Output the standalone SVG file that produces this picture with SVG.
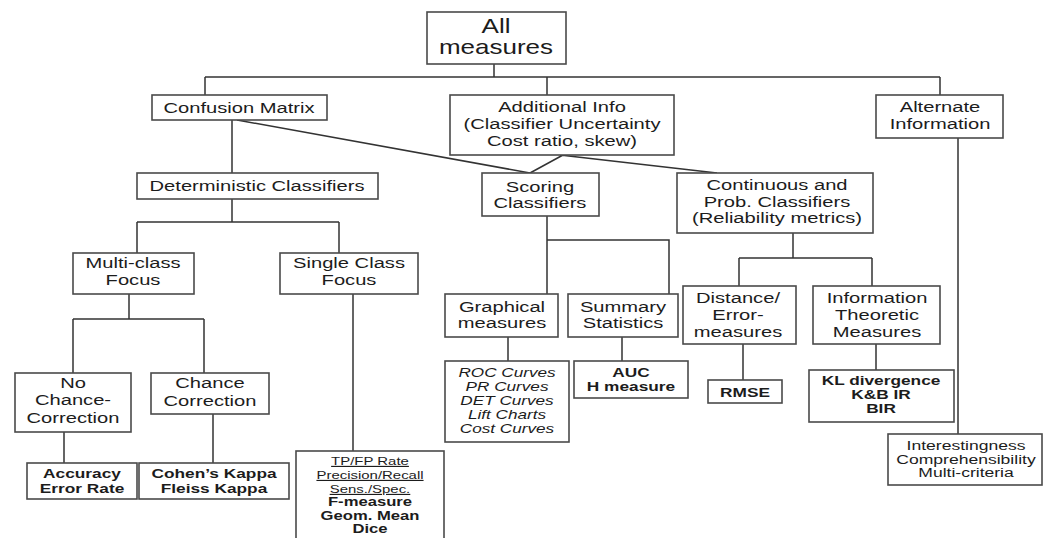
<svg xmlns="http://www.w3.org/2000/svg" width="1044" height="538" viewBox="0 0 1044 538">
<style>
.b{fill:#fff;stroke:#4a4a4a;stroke-width:1.6}
.c{fill:none;stroke:#333;stroke-width:1.5}
text{font-family:"Liberation Sans",Arial,sans-serif;fill:#1c1c1c;text-anchor:middle}
.m{font-size:15.5px}
.t{font-size:20px}
.s{font-size:13.3px;font-weight:bold}
.i{font-size:13.2px;font-style:italic}
.r{font-size:13.5px}
.u{font-size:11.5px;text-decoration:underline}
.sb{font-size:12.8px;font-weight:bold}
</style>
<rect width="1044" height="538" fill="#fff"/>
<g id="connectors">
<path class="c" d="M494 64V77M205 77H940M205 77V95M547 77V95M940 77V95"/>
<path class="c" d="M232 120V173M237 120L530 173M563 155L530 173M560 155L717 173"/>
<path class="c" d="M232 199V222M137 222H339M137 222V253M339 222V253"/>
<path class="c" d="M129 294V319M73 319H204M73 319V373M204 319V373M64 432V463M213 414V463M353 294V451"/>
<path class="c" d="M547 216V294M547 240H669V294M508 337V361M622 337V361"/>
<path class="c" d="M793 233V258M739 258H872M739 258V286M872 258V286M743 344V380M876 344V370M958 138V434"/>
</g>
<g id="all"><rect class="b" x="427" y="12" width="139" height="52"/>
<text class="t" transform="translate(496 0) scale(1.3 1)" y="33">All</text>
<text class="t" transform="translate(496 0) scale(1.3 1)" y="54">measures</text></g>
<g id="confusion"><rect class="b" x="152" y="95" width="175" height="25"/>
<text class="m" transform="translate(239 0) scale(1.3 1)" y="113">Confusion Matrix</text></g>
<g id="addinfo"><rect class="b" x="450" y="95" width="224" height="60"/>
<text class="m" transform="translate(562 0) scale(1.3 1)" y="112">Additional Info</text>
<text class="m" transform="translate(562 0) scale(1.3 1)" y="129">(Classifier Uncertainty</text>
<text class="m" transform="translate(562 0) scale(1.3 1)" y="146">Cost ratio, skew)</text></g>
<g id="alternate"><rect class="b" x="876" y="95" width="127" height="43"/>
<text class="m" transform="translate(940 0) scale(1.3 1)" y="112">Alternate</text>
<text class="m" transform="translate(940 0) scale(1.3 1)" y="129">Information</text></g>
<g id="deterministic"><rect class="b" x="137" y="173" width="241" height="26"/>
<text class="m" transform="translate(257 0) scale(1.3 1)" y="191">Deterministic Classifiers</text></g>
<g id="scoring"><rect class="b" x="482" y="173" width="117" height="43"/>
<text class="m" transform="translate(540 0) scale(1.3 1)" y="192">Scoring</text>
<text class="m" transform="translate(540 0) scale(1.3 1)" y="208">Classifiers</text></g>
<g id="continuous"><rect class="b" x="677" y="173" width="196" height="60"/>
<text class="m" transform="translate(777 0) scale(1.3 1)" y="190">Continuous and</text>
<text class="m" transform="translate(777 0) scale(1.3 1)" y="207">Prob. Classifiers</text>
<text class="m" transform="translate(777 0) scale(1.3 1)" y="223">(Reliability metrics)</text></g>
<g id="multiclass"><rect class="b" x="73" y="253" width="121" height="41"/>
<text class="m" transform="translate(133 0) scale(1.3 1)" y="268">Multi-class</text>
<text class="m" transform="translate(133 0) scale(1.3 1)" y="285">Focus</text></g>
<g id="singleclass"><rect class="b" x="280" y="253" width="138" height="41"/>
<text class="m" transform="translate(349 0) scale(1.3 1)" y="268">Single Class</text>
<text class="m" transform="translate(349 0) scale(1.3 1)" y="285">Focus</text></g>
<g id="nochance"><rect class="b" x="15" y="373" width="116" height="59"/>
<text class="m" transform="translate(73 0) scale(1.3 1)" y="388">No</text>
<text class="m" transform="translate(73 0) scale(1.3 1)" y="405">Chance-</text>
<text class="m" transform="translate(73 0) scale(1.3 1)" y="423">Correction</text></g>
<g id="chance"><rect class="b" x="151" y="373" width="118" height="41"/>
<text class="m" transform="translate(210 0) scale(1.3 1)" y="388">Chance</text>
<text class="m" transform="translate(210 0) scale(1.3 1)" y="406">Correction</text></g>
<g id="accuracy"><rect class="b" x="27" y="463" width="110" height="36"/>
<text class="s" transform="translate(82 0) scale(1.3 1)" y="478">Accuracy</text>
<text class="s" transform="translate(82 0) scale(1.3 1)" y="493">Error Rate</text></g>
<g id="cohen"><rect class="b" x="139" y="463" width="150" height="36"/>
<text class="s" transform="translate(214 0) scale(1.3 1)" y="478">Cohen’s Kappa</text>
<text class="s" transform="translate(214 0) scale(1.3 1)" y="493">Fleiss Kappa</text></g>
<g id="tpfp"><rect class="b" x="296" y="451" width="148" height="100"/>
<text class="u" transform="translate(370 0) scale(1.3 1)" y="465">TP/FP Rate</text>
<text class="u" transform="translate(370 0) scale(1.3 1)" y="479">Precision/Recall</text>
<text class="u" transform="translate(370 0) scale(1.3 1)" y="493">Sens./Spec.</text>
<text class="sb" transform="translate(370 0) scale(1.3 1)" y="506">F-measure</text>
<text class="sb" transform="translate(370 0) scale(1.3 1)" y="520">Geom. Mean</text>
<text class="sb" transform="translate(370 0) scale(1.3 1)" y="533">Dice</text></g>
<g id="graphical"><rect class="b" x="445" y="294" width="113" height="43"/>
<text class="m" transform="translate(502 0) scale(1.3 1)" y="312">Graphical</text>
<text class="m" transform="translate(502 0) scale(1.3 1)" y="328">measures</text></g>
<g id="summary"><rect class="b" x="568" y="294" width="110" height="43"/>
<text class="m" transform="translate(623 0) scale(1.3 1)" y="312">Summary</text>
<text class="m" transform="translate(623 0) scale(1.3 1)" y="328">Statistics</text></g>
<g id="roc"><rect class="b" x="445" y="361" width="124" height="81"/>
<text class="i" transform="translate(507 0) scale(1.3 1)" y="377">ROC Curves</text>
<text class="i" transform="translate(507 0) scale(1.3 1)" y="391">PR Curves</text>
<text class="i" transform="translate(507 0) scale(1.3 1)" y="405">DET Curves</text>
<text class="i" transform="translate(507 0) scale(1.3 1)" y="419">Lift Charts</text>
<text class="i" transform="translate(507 0) scale(1.3 1)" y="433">Cost Curves</text></g>
<g id="auc"><rect class="b" x="574" y="361" width="114" height="37"/>
<text class="s" transform="translate(631 0) scale(1.3 1)" y="377">AUC</text>
<text class="s" transform="translate(631 0) scale(1.3 1)" y="391">H measure</text></g>
<g id="distance"><rect class="b" x="683" y="286" width="113" height="58"/>
<text class="m" transform="translate(738 0) scale(1.3 1)" y="303">Distance/</text>
<text class="m" transform="translate(738 0) scale(1.3 1)" y="320">Error-</text>
<text class="m" transform="translate(738 0) scale(1.3 1)" y="337">measures</text></g>
<g id="infotheory"><rect class="b" x="813" y="286" width="127" height="58"/>
<text class="m" transform="translate(877 0) scale(1.3 1)" y="303">Information</text>
<text class="m" transform="translate(877 0) scale(1.3 1)" y="320">Theoretic</text>
<text class="m" transform="translate(877 0) scale(1.3 1)" y="337">Measures</text></g>
<g id="rmse"><rect class="b" x="708" y="380" width="74" height="23"/>
<text class="s" transform="translate(745 0) scale(1.3 1)" y="397">RMSE</text></g>
<g id="kl"><rect class="b" x="809" y="370" width="145" height="52"/>
<text class="s" transform="translate(881 0) scale(1.3 1)" y="385">KL divergence</text>
<text class="s" transform="translate(881 0) scale(1.3 1)" y="399">K&amp;B IR</text>
<text class="s" transform="translate(881 0) scale(1.3 1)" y="413">BIR</text></g>
<g id="interest"><rect class="b" x="888" y="434" width="154" height="51"/>
<text class="r" transform="translate(966 0) scale(1.3 1)" y="450">Interestingness</text>
<text class="r" transform="translate(966 0) scale(1.3 1)" y="464">Comprehensibility</text>
<text class="r" transform="translate(966 0) scale(1.3 1)" y="477">Multi-criteria</text></g>
</svg>
